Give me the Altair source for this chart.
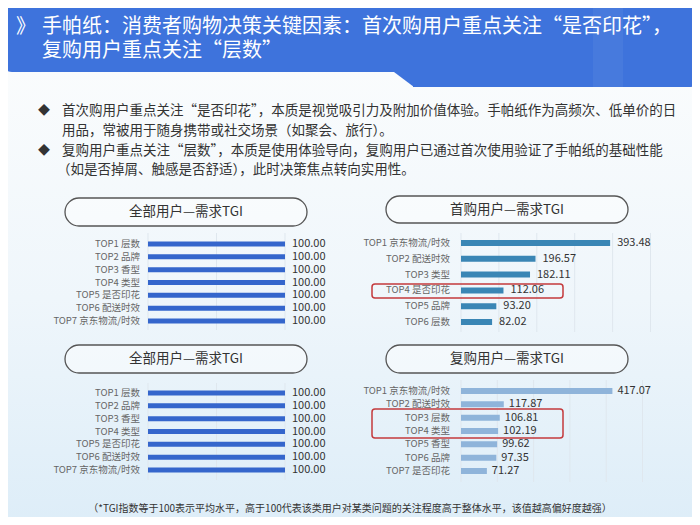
import altair as alt
import pandas as pd

FONT = "Noto Sans CJK SC"

# ---------------- data ----------------
title_line1 = "手帕纸：消费者购物决策关键因素：首次购用户重点关注“是否印花”，"
title_line2 = "复购用户重点关注“层数”"
bullet_lines = [
    "首次购用户重点关注“是否印花”，本质是视觉吸引力及附加价值体验。手帕纸作为高频次、低单价的日",
    "用品，常被用于随身携带或社交场景（如聚会、旅行）。",
    "复购用户重点关注“层数”，本质是使用体验导向，复购用户已通过首次使用验证了手帕纸的基础性能",
    "（如是否掉屑、触感是否舒适），此时决策焦点转向实用性。",
]
footnote = "（*TGI指数等于100表示平均水平，高于100代表该类用户对某类问题的关注程度高于整体水平，该值越高偏好度越强）"

all_title = "全部用户—需求TGI"
all_labels = ["TOP1 层数", "TOP2 品牌", "TOP3 香型", "TOP4 类型", "TOP5 是否印花", "TOP6 配送时效", "TOP7 京东物流/时效"]
all_values = [100.00, 100.00, 100.00, 100.00, 100.00, 100.00, 100.00]
all_ticks = [0, 50, 100]

first_title = "首购用户—需求TGI"
first_labels = ["TOP1 京东物流/时效", "TOP2 配送时效", "TOP3 类型", "TOP4 是否印花", "TOP5 品牌", "TOP6 层数"]
first_values = [393.48, 196.57, 182.11, 112.06, 93.20, 82.02]

repeat_title = "复购用户—需求TGI"
repeat_labels = ["TOP1 京东物流/时效", "TOP2 配送时效", "TOP3 层数", "TOP4 类型", "TOP5 香型", "TOP6 品牌", "TOP7 是否印花"]
repeat_values = [417.07, 117.87, 106.81, 102.19, 99.62, 97.35, 71.27]
tgi_ticks = [0, 100, 200, 300, 400, 500]

one = pd.DataFrame({"k": [0]})


def txt(s, x, y, size, color, align="left", weight="normal"):
    return alt.Chart(pd.DataFrame({"t": [s]})).mark_text(
        align=align, baseline="middle", fontSize=size, color=color, font=FONT, fontWeight=weight
    ).encode(x=alt.value(x), y=alt.value(y), text="t:N")


def box(x, x2, y, y2, **kw):
    return alt.Chart(one).mark_rect(**kw).encode(
        x=alt.value(x), x2=alt.value(x2), y=alt.value(y), y2=alt.value(y2)
    )


def panel(labels, values, title, x0, x1, dmax, ticks, ytop, ybot, gtop, gbot,
          color, barsize, label_x, pill, dx):
    df = pd.DataFrame({"label": labels, "value": values})
    xs = alt.Scale(domain=[0, dmax], range=[x0, x1], nice=False, zero=True)
    ys = alt.Scale(type="point", domain=labels, range=[ytop, ybot], padding=0)
    xenc = alt.X("value:Q", scale=xs, axis=None)
    yenc = alt.Y("label:N", scale=ys, axis=None, sort=None)
    grid = alt.Chart(pd.DataFrame({"g": ticks})).mark_rule(color="#dfe7ee", strokeWidth=1).encode(
        x=alt.X("g:Q", scale=xs, axis=None), y=alt.value(gtop), y2=alt.value(gbot)
    )
    bars = alt.Chart(df).mark_bar(size=barsize, color=color).encode(x=xenc, y=yenc)
    vals = alt.Chart(df).mark_text(
        align="left", baseline="middle", dx=dx, fontSize=11, color="#333333", font=FONT
    ).encode(x=xenc, y=yenc, text=alt.Text("value:Q", format=".2f"))
    labs = alt.Chart(df).mark_text(
        align="right", baseline="middle", fontSize=9.5, color="#666666", font=FONT
    ).encode(x=alt.value(label_x), y=yenc, text="label:N")
    px0, px1, py0, py1 = pill
    pill_rect = box(px0, px1, py0, py1, cornerRadius=14, stroke="#555555", strokeWidth=1.3,
                    fill="#ffffff", fillOpacity=0.45)
    pill_text = txt(title, (px0 + px1) / 2, (py0 + py1) / 2, 13.5, "#333333", align="center")
    return alt.layer(grid, bars, vals, labs, pill_rect, pill_text)


HEAD = "#3e73dc"

bg = alt.Chart(one).mark_rect(
    fill=alt.Gradient(
        gradient="linear",
        stops=[alt.GradientStop(color="#fafcfd", offset=0),
               alt.GradientStop(color="#eff6fb", offset=0.5),
               alt.GradientStop(color="#ddedf8", offset=1)],
        x1=0, x2=0, y1=0, y2=1,
    )
).encode(x=alt.value(-8), x2=alt.value(692), y=alt.value(60), y2=alt.value(520))

header = box(-8, 692, -8, 64, fill=HEAD, cornerRadiusBottomLeft=12)
tab = box(405, 692, 40, 79, fill=HEAD, cornerRadiusBottomRight=10)
slant = alt.Chart(one).mark_point(
    shape="M -1 -0.75 L 1 -0.75 L 1 0.75 Z", filled=True, size=400, color=HEAD, opacity=1
).encode(x=alt.value(396), y=alt.value(71.5))
gloss = box(585, 615, -8, 79, fill="#ffffff", fillOpacity=0.05)

layers = [
    bg, header, tab, slant, gloss,
    txt("》", 8, 19, 20, "#ffffff"),
    txt(title_line1, 34, 19, 20, "#ffffff"),
    txt(title_line2, 34, 43, 20, "#ffffff"),
    txt("◆", 36, 103, 12, "#333333", align="center"),
    txt(bullet_lines[0], 54, 103, 13.5, "#333333"),
    txt(bullet_lines[1], 54, 123, 13.5, "#333333"),
    txt("◆", 36, 143, 12, "#333333", align="center"),
    txt(bullet_lines[2], 54, 143, 13.5, "#333333"),
    txt(bullet_lines[3], 49, 162, 13.5, "#333333"),
    panel(all_labels, all_values, all_title, 140, 277, 100, all_ticks, 236, 313, 225, 322,
          "#3566cc", 5, 132, (57, 299, 190, 218), 7),
    panel(first_labels, first_values, first_title, 453, 642.5, 500, tgi_ticks, 235, 314, 225, 324,
          "#3a86b5", 6, 442, (378, 620, 188, 215), 7),
    panel(all_labels, all_values, all_title, 140, 277, 100, all_ticks, 385, 462, 375, 472,
          "#3566cc", 5, 132, (57, 299, 337, 365), 7),
    panel(repeat_labels, repeat_values, repeat_title, 453, 634.5, 500, tgi_ticks, 383, 463, 372, 474,
          "#8fb4da", 6, 442, (378, 620, 337, 365), 5),
    box(364, 555, 276, 290, fillOpacity=0, stroke="#c43a3d", strokeWidth=1.5, cornerRadius=3),
    box(364, 555, 401, 430, fillOpacity=0, stroke="#c43a3d", strokeWidth=1.5, cornerRadius=3),
    txt(footnote, 342, 501, 10, "#333333", align="center"),
]

chart = alt.layer(*layers).resolve_scale(x="independent", y="independent").properties(
    width=684, height=509, autosize=alt.AutoSizeParams(type="none"), padding=0,
    background="#f4f9fc",
).configure_view(stroke=None)

chart.save("out.html", embed_options={"renderer": "svg", "actions": False})
